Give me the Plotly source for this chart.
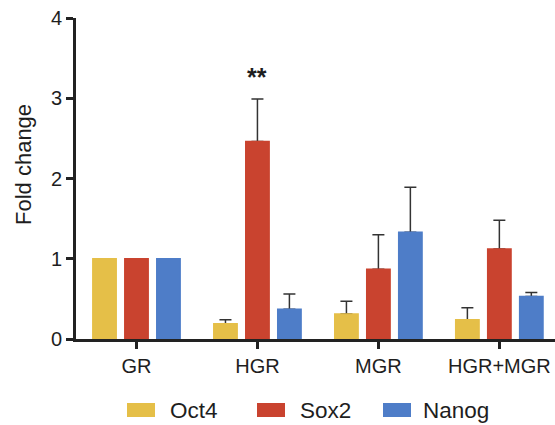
import plotly.graph_objects as go

# ---- data ----
categories = ["GR", "HGR", "MGR", "HGR+MGR"]
series_names = ["Oct4", "Sox2", "Nanog"]
oct4 = [1.0, 0.19, 0.31, 0.24]
oct4_err = [0.0, 0.05, 0.16, 0.15]
sox2 = [1.0, 2.46, 0.87, 1.12]
sox2_err = [0.0, 0.53, 0.43, 0.36]
nanog = [1.0, 0.37, 1.33, 0.53]
nanog_err = [0.0, 0.19, 0.56, 0.05]
y_ticks = [0, 1, 2, 3, 4]
signif_label = "**"
signif_category = "HGR"
signif_y = 3.27

colors = ["#E5BF48", "#C9432F", "#4E7DC8"]
values = [oct4, sox2, nanog]
errors = [oct4_err, sox2_err, nanog_err]

W, H = 555, 425
L, R, T, B = 76, 0, 18, 86
PW, PH = W - L - R, H - T - B
FONT = "Liberation Sans, Arial, Helvetica, sans-serif"
AX = "#222222"
TXT = "#1e1e1e"


def px(x):
    return (x - L) / PW


def py(y):
    return (H - B - y) / PH


fig = go.Figure()

# bars carrying the (upward) error bars
for name, vals, errs, col in zip(series_names, values, errors, colors):
    fig.add_trace(go.Bar(
        x=categories, y=vals, name=name, offsetgroup=name,
        marker=dict(color=col, line=dict(width=0)),
        error_y=dict(type="data", symmetric=False, array=errs,
                     arrayminus=[0] * len(errs), color="#333333",
                     thickness=1.5, width=6,
                     visible=True),
        showlegend=False,
    ))
# identical bars drawn on top to hide the lower caps
for name, vals, col in zip(series_names, values, colors):
    fig.add_trace(go.Bar(
        x=categories, y=vals, name=name, offsetgroup=name,
        marker=dict(color=col, line=dict(width=1.5, color=col)),
        showlegend=False, hoverinfo="skip",
    ))

fig.add_annotation(x=signif_category, y=signif_y, xref="x", yref="y",
                   text="<b>" + signif_label + "</b>", showarrow=False,
                   font=dict(size=25, color=TXT, family=FONT),
                   yanchor="middle")

# y-axis title
fig.add_annotation(x=px(23), y=py(165), xref="paper", yref="paper",
                   text="Fold change", textangle=-90, showarrow=False,
                   xanchor="center", yanchor="middle",
                   font=dict(size=22, color=TXT, family=FONT))

# manual legend
sw_x = [127, 257, 383]
tx_x = [168, 298, 421]
for name, col, sx, tx in zip(series_names, colors, sw_x, tx_x):
    fig.add_shape(type="rect", xref="paper", yref="paper",
                  x0=px(sx), x1=px(sx + 28), y0=py(417), y1=py(403),
                  fillcolor=col, line=dict(width=0))
    fig.add_annotation(x=px(tx), y=py(410), xref="paper", yref="paper",
                       text=name, showarrow=False, xanchor="left",
                       yanchor="middle",
                       font=dict(size=22.5, color=TXT, family=FONT))

fig.update_layout(
    width=W, height=H,
    margin=dict(l=L, r=R, t=T, b=B),
    barmode="group", bargap=0.207, bargroupgap=0.27,
    plot_bgcolor="white", paper_bgcolor="white",
    font=dict(family=FONT, color=TXT),
    showlegend=False,
)
fig.update_xaxes(type="category", range=[-0.5, 3.46], showline=True,
                 linewidth=3, linecolor=AX, ticks="outside", ticklen=7,
                 tickwidth=3, tickcolor=AX, showgrid=False, zeroline=False,
                 tickfont=dict(size=20, color=TXT, family=FONT))
fig.update_yaxes(range=[0, 4], tickvals=y_ticks, showline=True, linewidth=3,
                 linecolor=AX, ticks="outside", ticklen=7, tickwidth=3,
                 tickcolor=AX, showgrid=False, zeroline=False,
                 tickfont=dict(size=20, color=TXT, family=FONT))

fig.write_html("out.html",
               config={"displayModeBar": False},
               post_script="document.body.style.margin='0';"
                           "document.body.style.overflow='hidden';")
